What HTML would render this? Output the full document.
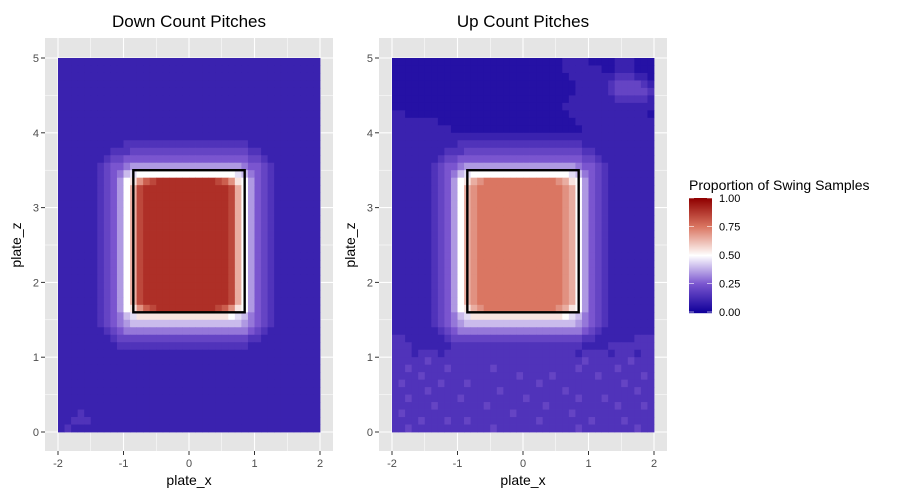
<!DOCTYPE html>
<html><head><meta charset="utf-8"><style>
body{margin:0;background:#fff;}
svg{display:block;font-family:"Liberation Sans",Arial,sans-serif;}
</style></head><body>
<svg id="chart" width="900" height="500"></svg>
<script>
// Proportion grids: rows from z=4.9 (top) to z=0, 40 cols x=-2..2.
// Char index in LEVELS / 20 = proportion (0, 0.05, ... 1.0). Spaces are only for readability.
const LEVELS = "0123456789ABCDEFGHIJK";
const xTicks = [-2, -1, 0, 1, 2];
const zTicks = [0, 1, 2, 3, 4, 5];
const legendTicks = ["0.00", "0.25", "0.50", "0.75", "1.00"];
const strikeZone = [-0.85, 0.85, 1.6, 3.5];
const panelTitles = ["Down Count Pitches", "Up Count Pitches"];
const downGrid = [
"2222222222 2222222222 2222222222 2222222222",
"2222222222 2222222222 2222222222 2222222222",
"2222222222 2222222222 2222222222 2222222222",
"2222222222 2222222222 2222222222 2222222222",
"2222222222 2222222222 2222222222 2222222222",
"2222222222 2222222222 2222222222 2222222222",
"2222222222 2222222222 2222222222 2222222222",
"2222222222 2222222222 2222222222 2222222222",
"2222222222 2222222222 2222222222 2222222222",
"2222222222 2222222222 2222222222 2222222222",
"2222222222 2222222222 2222222222 2222222222",
"2222222222 3333333333 3333333332 2222222222",
"2222222233 3444444444 4444444443 3222222222",
"2222222344 5555555555 5555555554 4322222222",
"2222223455 6777777777 7777777765 5432222222",
"2222223456 89AAAAAAAA AAAAAAA986 5432222222",
"2222223457 ABEGHIIIII IIIIHGEBA7 5432222222",
"2222223457 ADHIIIIIII IIIIIIHDA7 5432222222",
"2222223457 ADHIIIIIII IIIIIIHDA7 5432222222",
"2222223457 ADHIIIIIII IIIIIIHDA7 5432222222",
"2222223457 ADHIIIIIII IIIIIIHDA7 5432222222",
"2222223457 ADHIIIIIII IIIIIIHDA7 5432222222",
"2222223457 ADHIIIIIII IIIIIIHDA7 5432222222",
"2222223457 ADHIIIIIII IIIIIIHDA7 5432222222",
"2222223457 ADHIIIIIII IIIIIIHDA7 5432222222",
"2222223457 ADHIIIIIII IIIIIIHDA7 5432222222",
"2222223457 ADHIIIIIII IIIIIIHDA7 5432222222",
"2222223457 ADHIIIIIII IIIIIIHDA7 5432222222",
"2222223457 ADHIIIIIII IIIIIIHDA7 5432222222",
"2222223457 ADHIIIIIII IIIIIIHDA7 5432222222",
"2222223457 ADHIIIIIII IIIIIIHDA7 5432222222",
"2222223457 ADHIIIIIII IIIIIIHDA7 5432222222",
"2222223457 ADHIIIIIII IIIIIIHDA7 5432222222",
"2222223457 ABEGHIIIII IIIIHGEBA7 5432222222",
"2222223456 89BBBBBBBB BBBBBBA986 5432222222",
"2222223456 7888888888 8888888876 5432222222",
"2222222345 6666666666 6666666665 4322222222",
"2222222234 4444444444 4444444443 3222222222",
"2222222223 3333333333 3333333332 2222222222",
"2222222222 2222222222 2222222222 2222222222",
"2222222222 2222222222 2222222222 2222222222",
"2222222222 2222222222 2222222222 2222222222",
"2222222222 2222222222 2222222222 2222222222",
"2222222222 2222222222 2222222222 2222222222",
"2222222222 2222222222 2222222222 2222222222",
"2222222222 2222222222 2222222222 2222222222",
"2222222222 2222222222 2222222222 2222222222",
"2223222222 2222222222 2222222222 2222222222",
"2233322222 2222222222 2222222222 2222222222",
"2322222222 2222222222 2222222222 2222222222"
];
const upGrid = [
"1111111111 1111111111 1111112222 1111222111",
"1111111111 1111111111 1111112222 2211222111",
"1111111111 1111111111 1111111222 2222333221",
"1111111111 1111111111 1111111122 2223444432",
"1111111111 1111111111 1111111122 2223444443",
"1111111111 1111111111 1111111222 2222333332",
"1111111111 1111111111 1111112222 2222222222",
"2211111111 1111111111 1111111222 2222222221",
"2222222111 1111111111 1111111122 2222222222",
"2222222221 1111111111 1111111112 2222222222",
"2222222222 2222222222 2222222222 2222222222",
"2222222222 3333333333 3333333332 2222222222",
"2222222233 3444444444 4444444443 3222222222",
"2222222344 5555555555 5555555554 4322222222",
"2222223455 6777777777 7777777765 5432222222",
"2222223456 89AAAAAAAA AAAAAAA986 5432222222",
"2222223457 ABDEFFFFFF FFFFFEDBA7 5432222222",
"2222223457 ADEFFFFFFF FFFFFFEDA7 5432222222",
"2222223457 ADEFFFFFFF FFFFFFEDA7 5432222222",
"2222223457 ADEFFFFFFF FFFFFFEDA7 5432222222",
"2222223457 ADEFFFFFFF FFFFFFEDA7 5432222222",
"2222223457 ADEFFFFFFF FFFFFFEDA7 5432222222",
"2222223457 ADEFFFFFFF FFFFFFEDA7 5432222222",
"2222223457 ADEFFFFFFF FFFFFFEDA7 5432222222",
"2222223457 ADEFFFFFFF FFFFFFEDA7 5432222222",
"2222223457 ADEFFFFFFF FFFFFFEDA7 5432222222",
"2222223457 ADEFFFFFFF FFFFFFEDA7 5432222222",
"2222223457 ADEFFFFFFF FFFFFFEDA7 5432222222",
"2222223457 ADEFFFFFFF FFFFFFEDA7 5432222222",
"2222223457 ADEFFFFFFF FFFFFFEDA7 5432222222",
"2222223457 ADEFFFFFFF FFFFFFEDA7 5432222222",
"2222223457 ADEFFFFFFF FFFFFFEDA7 5432222222",
"2222223457 ADEFFFFFFF FFFFFFEDA7 5432222222",
"2222223457 ABDEFFFFFF FFFFFEDBA7 5432222222",
"2222223456 89BBBBBBBB BBBBBBA986 5432222222",
"2222223456 7888888888 8888888876 5432222222",
"2222222345 6666666666 6666666665 4322222222",
"3322222234 4444444444 4444444443 3222222333",
"3332222223 3333333333 3333333332 2223333333",
"3332333233 3333333333 3333333323 3332333233",
"3333343333 3333333333 3333333334 3333334333",
"3343333343 3333343333 3333333343 3333433333",
"3333433333 3333333334 3333433333 3433333343",
"3433333433 3433333333 3343333333 3333343333",
"3333343333 3333334333 3333334333 3333333433",
"3343333333 4333333333 4333333343 3343333333",
"3333334333 3333433333 3334333333 3333433343",
"3433333333 3333333343 3333333433 3333333333",
"3333433343 3433333333 3343333333 4333343333",
"3343333333 3333343333 3333333343 3333333433"
];

const NS = "http://www.w3.org/2000/svg";
const svg = document.getElementById('chart');
function mk(tag, attrs, parent) {
  const e = document.createElementNS(NS, tag);
  for (const k in attrs) e.setAttribute(k, attrs[k]);
  (parent || svg).appendChild(e);
  return e;
}
const stops = [[0,[16,0,154]],[0.25,[122,85,207]],[0.5,[255,255,255]],[0.75,[218,118,98]],[1,[144,0,0]]];
function color(v) {
  for (let i = 1; i < stops.length; i++) {
    if (v <= stops[i][0]) {
      const a = stops[i-1], b = stops[i], t = (v - a[0]) / (b[0] - a[0]);
      const c = a[1].map((x, k) => Math.round(x + (b[1][k] - x) * t));
      return 'rgb(' + c.join(',') + ')';
    }
  }
  return 'rgb(144,0,0)';
}

const panels = [{x0: 58, grid: downGrid}, {x0: 392, grid: upGrid}];
panels.forEach((p, pi) => {
  const xs = v => p.x0 + (v + 2) * 65.5;
  const ys = v => 432 - v * 74.8;
  const g = mk('g', {});
  
  
  const left = p.x0 - 13, right = p.x0 + 262 + 13;
  const bg = mk('rect', {x: left, y: 38, width: right - left, height: 413, fill: '#e5e5e5'}, g);
  
  
  for (let v = -2; v <= 2; v += 0.5) {
    const l = mk('line', {x1: xs(v), x2: xs(v), y1: 38, y2: 451, stroke: '#fff', 'stroke-width': Number.isInteger(v) ? 1.1 : 0.5}, g);
    
    
  }
  for (let v = 0; v <= 5; v += 0.5) {
    const l = mk('line', {x1: left, x2: right, y1: ys(v), y2: ys(v), stroke: '#fff', 'stroke-width': Number.isInteger(v) ? 1.1 : 0.5}, g);
    
    
  }
  const n = p.grid.length;
  p.grid.forEach((rawRow, r) => {
    const row = rawRow.replace(/ /g, '');
    const z = (n - 1 - r) * 0.1;
    for (let c = 0; c < row.length && c < 40; c++) {
      const v = LEVELS.indexOf(row[c]) / 20;
      const x = -2 + c * 0.1;
      const cell = mk('rect', {x: xs(x), y: ys(z + 0.1), width: xs(x + 0.1) - xs(x) + 0.4, height: ys(z) - ys(z + 0.1) + 0.4, fill: color(v)}, g);
      
      
    }
  });
  const sz = mk('rect', {x: xs(strikeZone[0]), y: ys(strikeZone[3]), width: xs(strikeZone[1]) - xs(strikeZone[0]), height: ys(strikeZone[2]) - ys(strikeZone[3]), fill: 'none', stroke: '#000', 'stroke-width': 2.4}, g);
  
  
  xTicks.forEach(t => {
    const tk = mk('line', {x1: xs(t), x2: xs(t), y1: 451, y2: 455, stroke: '#333'}, g);
    
    
    const tl = mk('text', {x: xs(t), y: 467, 'text-anchor': 'middle', 'font-size': 11, fill: '#4d4d4d'}, g);
    tl.textContent = t;
    
    
  });
  zTicks.forEach(t => {
    const tk = mk('line', {x1: left - 4, x2: left, y1: ys(t), y2: ys(t), stroke: '#333'}, g);
    
    
    const tl = mk('text', {x: left - 6, y: ys(t) + 4, 'text-anchor': 'end', 'font-size': 11, fill: '#4d4d4d'}, g);
    tl.textContent = t;
    
    
  });
  const xt = mk('text', {x: xs(0), y: 485, 'text-anchor': 'middle', 'font-size': 14, fill: '#000'}, g);
  xt.textContent = 'plate_x';
  
  
  const yt = mk('text', {x: 0, y: 0, 'text-anchor': 'middle', 'font-size': 14, fill: '#000', transform: 'translate(' + (left - 24) + ',' + ys(2.5) + ') rotate(-90)'}, g);
  yt.textContent = 'plate_z';
  
  
  const tt = mk('text', {x: xs(0), y: 27, 'text-anchor': 'middle', 'font-size': 17, fill: '#000'}, g);
  tt.textContent = panelTitles[pi];
  
  
});

const lg = mk('g', {});


const lt = mk('text', {x: 689, y: 190, 'font-size': 14, fill: '#000'}, lg);
lt.textContent = 'Proportion of Swing Samples';


const lTop = 198, lBot = 312;
for (let i = 0; i < 115; i++) {
  const v = 1 - i / 114;
  const s = mk('rect', {x: 689, y: lTop + i, width: 23, height: 1.2, fill: color(v)}, lg);
  
  
}
legendTicks.forEach(t => {
  const y = lBot - (lBot - lTop) * parseFloat(t);
  const tl = mk('text', {x: 719, y: y + 4, 'font-size': 11, fill: '#000'}, lg);
  tl.textContent = t;
  
  
  const a = mk('line', {x1: 689, x2: 694, y1: y, y2: y, stroke: '#fff', 'stroke-width': 0.6}, lg);
  
  
  const b = mk('line', {x1: 707, x2: 712, y1: y, y2: y, stroke: '#fff', 'stroke-width': 0.6}, lg);
  
  
});
</script>
</body></html>
